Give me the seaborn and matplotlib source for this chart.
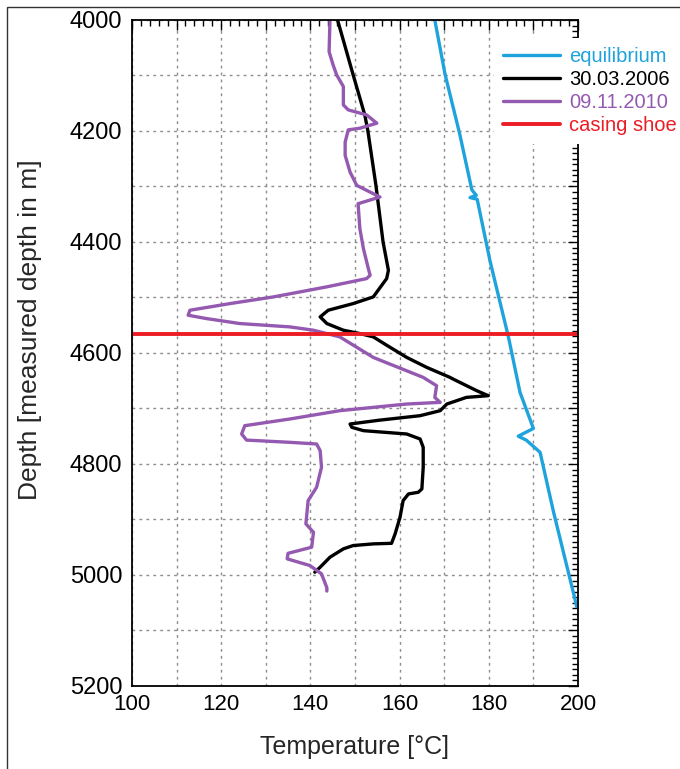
import numpy as np
import pandas as pd
import seaborn as sns
import matplotlib.pyplot as plt
from matplotlib.patches import Rectangle
from matplotlib.ticker import MultipleLocator, FuncFormatter

# equilibrium temperature profile
eq_depth = [4000, 4098, 4206, 4306, 4316, 4320, 4323, 4435, 4571, 4671, 4736, 4750, 4757, 4779, 4886, 5043, 5057]
eq_temp = [167.9, 170.2, 173.5, 176.2, 177.2, 175.8, 177.4, 180.3, 184.4, 187.0, 190.0, 186.6, 188.4, 191.5, 194.5, 199.3, 199.7]

# log of 30.03.2006
log06_depth = [4000, 4099, 4171, 4200, 4298, 4400, 4451, 4466, 4499, 4511, 4523, 4535, 4547, 4559,
               4565, 4571, 4586, 4608, 4626, 4644, 4647, 4668, 4677, 4680, 4692, 4704, 4713, 4721,
               4728, 4734, 4740, 4746, 4755, 4770, 4806, 4845, 4851, 4854, 4866, 4896, 4926, 4943,
               4944, 4947, 4953, 4968, 4986, 4995]
log06_temp = [146.1, 149.6, 152.2, 152.9, 154.7, 156.3, 157.5, 157.1, 154.1, 149.6, 144.0, 142.2, 143.7, 147.4,
              151.1, 154.1, 157.1, 161.6, 166.1, 171.3, 172.0, 177.3, 179.9, 175.0, 170.6, 169.1, 164.6, 155.6,
              148.9, 149.3, 151.9, 161.6, 164.6, 165.3, 165.3, 165.0, 164.2, 162.0, 160.8, 160.1, 159.0, 158.2,
              154.1, 149.6, 147.4, 144.4, 142.2, 141.0]

# log of 09.11.2010
log10_depth = [4000, 4057, 4081, 4099, 4120, 4153, 4162, 4171, 4186, 4195, 4198, 4220, 4244, 4274, 4298,
               4319, 4331, 4376, 4412, 4448, 4460, 4466, 4481, 4499, 4511, 4523, 4532, 4538, 4547, 4553,
               4559, 4571, 4608, 4644, 4659, 4680, 4689, 4692, 4704, 4719, 4731, 4746, 4757, 4761, 4764,
               4776, 4806, 4842, 4866, 4908, 4923, 4950, 4961, 4971, 4983, 4998, 5023, 5029]
log10_temp = [144.4, 144.2, 145.1, 145.9, 147.4, 147.4, 148.5, 152.6, 154.9, 151.1, 148.5, 147.8, 147.8, 148.9, 150.4,
              155.6, 150.7, 151.1, 151.9, 153.0, 153.4, 152.6, 143.6, 131.7, 122.0, 113.0, 112.6, 116.7, 124.2, 135.4,
              140.7, 146.6, 154.1, 165.3, 168.3, 167.9, 169.1, 161.6, 146.6, 135.4, 125.3, 124.6, 125.7, 135.4, 141.4,
              142.2, 142.5, 141.4, 139.5, 139.0, 140.7, 140.3, 135.0, 134.8, 139.9, 142.5, 143.7, 143.7]

casing_shoe = 4565

labels = ['equilibrium', '30.03.2006', '09.11.2010', 'casing shoe']
colors = ['#1ea3dc', '#000000', '#9459b0', '#ec1c24']

sns.set_style('white')
plt.rcParams['font.family'] = ['Liberation Sans', 'DejaVu Sans']

fig = plt.figure(figsize=(6.8, 7.69), dpi=100)
ax = fig.add_axes([0.194, 0.108, 0.656, 0.866])

sns.lineplot(x=eq_temp, y=eq_depth, sort=False, estimator=None, color=colors[0], lw=2.4, ax=ax, label=labels[0])
sns.lineplot(x=log06_temp, y=log06_depth, sort=False, estimator=None, color=colors[1], lw=2.4, ax=ax, label=labels[1])
sns.lineplot(x=log10_temp, y=log10_depth, sort=False, estimator=None, color=colors[2], lw=2.4, ax=ax, label=labels[2])
ax.axhline(casing_shoe, color=colors[3], lw=2.8, label=labels[3])

ax.set_xlim(100, 200)
ax.set_ylim(5200, 4000)

ax.xaxis.set_major_locator(MultipleLocator(10))
ax.xaxis.set_minor_locator(MultipleLocator(2))
ax.yaxis.set_major_locator(MultipleLocator(100))
ax.yaxis.set_minor_locator(MultipleLocator(10))
ax.xaxis.set_major_formatter(FuncFormatter(lambda v, p: f'{v:.0f}' if round(v) % 20 == 0 else ''))
ax.yaxis.set_major_formatter(FuncFormatter(lambda v, p: f'{v:.0f}' if round(v) % 200 == 0 else ''))

ax.grid(True, which='major', color='#8c8c8c', linestyle=(0, (2, 3)), lw=1)
ax.tick_params(which='both', direction='in', top=True, right=True, colors='black', width=1)
ax.tick_params(which='major', length=7, pad=6)
ax.tick_params(which='minor', length=4)
ax.tick_params(axis='x', labelsize=16)
ax.tick_params(axis='y', labelsize=17, pad=7)
for s in ax.spines.values():
    s.set_color('black')
    s.set_linewidth(1.3)

ax.set_xlabel('Temperature [°C]', fontsize=18, labelpad=14)
ax.set_ylabel('Depth [measured depth in m]', fontsize=19)
ax.yaxis.set_label_coords(-0.202, 0.5345)

leg = ax.legend(loc='upper left', bbox_to_anchor=(0.727, 0.951), bbox_transform=fig.transFigure,
                frameon=True, fontsize=14.5, handlelength=2.8, handletextpad=0.45,
                labelspacing=0.2, borderpad=0.45, borderaxespad=0)
leg.get_frame().set_facecolor('white')
leg.get_frame().set_edgecolor('none')
leg.get_frame().set_alpha(1)
for txt, c in zip(leg.get_texts(), colors):
    txt.set_color(c)

fig.patches.append(Rectangle((0.0103, -0.5), 2, 1.4915, transform=fig.transFigure,
                             fill=False, lw=1, ec='#333333'))

fig.savefig('out.png', dpi=100)
